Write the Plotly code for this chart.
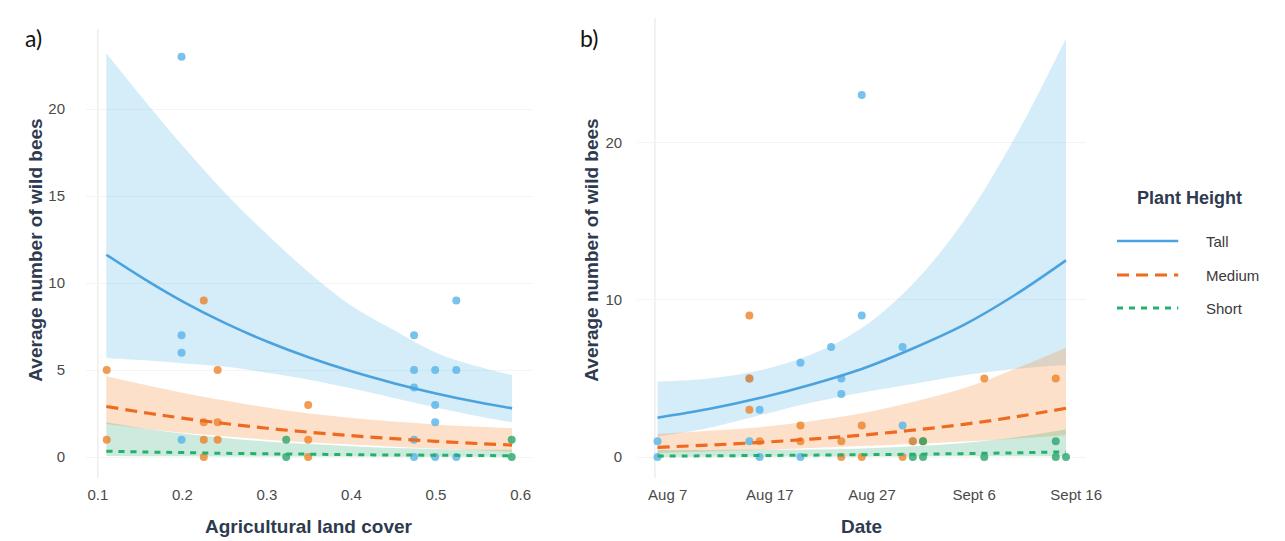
import plotly.graph_objects as go

# ---------------- Panel a: agricultural land cover ----------------
ag_tall_x = [0.199, 0.199, 0.199, 0.199, 0.474, 0.474, 0.474, 0.474, 0.474,
             0.499, 0.499, 0.499, 0.499, 0.524, 0.524, 0.524]
ag_tall_y = [23, 7, 6, 1, 7, 5, 4, 1, 0, 5, 3, 2, 0, 9, 5, 0]
ag_med_x = [0.1105, 0.1105, 0.2253, 0.2253, 0.2253, 0.2253, 0.2417, 0.2417, 0.2417,
            0.3488, 0.3488, 0.3488]
ag_med_y = [5, 1, 9, 2, 1, 0, 5, 2, 1, 3, 1, 0]
ag_short_x = [0.3228, 0.3228, 0.5895, 0.5895]
ag_short_y = [1, 0, 1, 0]

ag_grid = [0.11, 0.16, 0.2, 0.25, 0.3, 0.35, 0.4, 0.45, 0.5, 0.55, 0.59]
ag_tall_fit = [11.63, 10.08, 8.95, 7.71, 6.64, 5.72, 4.93, 4.25, 3.66, 3.15, 2.80]
ag_tall_hi = [23.2, 20.2, 17.9, 15.2, 12.8, 10.6, 8.7, 7.3, 6.0, 5.2, 4.7]
ag_tall_lo = [5.7, 5.55, 5.4, 5.2, 4.85, 4.45, 3.95, 3.4, 2.85, 2.35, 2.0]
ag_med_fit = [2.91, 2.52, 2.24, 1.93, 1.66, 1.43, 1.23, 1.06, 0.91, 0.78, 0.69]
ag_med_hi = [4.64, 4.1, 3.7, 3.25, 2.85, 2.5, 2.25, 2.05, 1.88, 1.75, 1.67]
ag_med_lo = [1.9, 1.6, 1.4, 1.2, 1.0, 0.85, 0.72, 0.6, 0.5, 0.4, 0.3]
ag_short_fit = [0.34, 0.29, 0.26, 0.22, 0.19, 0.17, 0.14, 0.12, 0.11, 0.09, 0.08]
ag_short_hi = [2.0, 1.6, 1.35, 1.1, 0.9, 0.75, 0.63, 0.53, 0.47, 0.43, 0.42]
ag_short_lo = [0.06, 0.05, 0.05, 0.04, 0.04, 0.03, 0.03, 0.02, 0.02, 0.02, 0.015]

ag_ticks = [0.1, 0.2, 0.3, 0.4, 0.5, 0.6]
ag_ticktext = ["0.1", "0.2", "0.3", "0.4", "0.5", "0.6"]
ag_yticks = [0, 5, 10, 15, 20]

# ---------------- Panel b: date ----------------
d_tall_x = ["2019-08-06", "2019-08-06", "2019-08-15", "2019-08-15", "2019-08-16", "2019-08-16",
            "2019-08-20", "2019-08-20", "2019-08-23", "2019-08-24", "2019-08-24",
            "2019-08-26", "2019-08-26", "2019-08-30", "2019-08-30", "2019-08-31"]
d_tall_y = [1, 0, 5, 1, 3, 0, 6, 0, 7, 5, 4, 23, 9, 7, 2, 1]
d_med_x = ["2019-08-15", "2019-08-15", "2019-08-15", "2019-08-16", "2019-08-20", "2019-08-20",
           "2019-08-24", "2019-08-24", "2019-08-26", "2019-08-26", "2019-08-30",
           "2019-08-31", "2019-09-01", "2019-09-07", "2019-09-14"]
d_med_y = [9, 5, 3, 1, 2, 1, 1, 0, 2, 0, 0, 1, 1, 5, 5]
d_short_x = ["2019-08-31", "2019-09-01", "2019-09-01", "2019-09-07", "2019-09-14", "2019-09-14",
             "2019-09-15"]
d_short_y = [0, 1, 0, 0, 1, 0, 0]

d_grid = ["2019-08-06", "2019-08-11", "2019-08-16", "2019-08-21", "2019-08-26",
          "2019-08-31", "2019-09-05", "2019-09-10", "2019-09-15"]
d_tall_fit = [2.5, 3.05, 3.75, 4.6, 5.6, 6.9, 8.4, 10.3, 12.5]
d_tall_hi = [4.8, 5.0, 5.5, 6.5, 8.2, 11.0, 15.0, 20.3, 26.6]
d_tall_lo = [1.3, 1.85, 2.65, 3.45, 4.1, 4.65, 5.2, 5.6, 5.85]
d_med_fit = [0.62, 0.76, 0.93, 1.14, 1.39, 1.71, 2.08, 2.55, 3.1]
d_med_hi = [1.46, 1.67, 1.9, 2.28, 2.78, 3.5, 4.37, 5.6, 6.95]
d_med_lo = [0.26, 0.35, 0.45, 0.57, 0.7, 0.83, 0.99, 1.16, 1.38]
d_short_fit = [0.065, 0.08, 0.1, 0.12, 0.15, 0.18, 0.22, 0.27, 0.33]
d_short_hi = [0.45, 0.45, 0.46, 0.48, 0.55, 0.68, 0.9, 1.25, 1.75]
d_short_lo = [0.01, 0.015, 0.022, 0.03, 0.035, 0.04, 0.045, 0.05, 0.06]

d_ticks = ["2019-08-07", "2019-08-17", "2019-08-27", "2019-09-06", "2019-09-16"]
d_ticktext = ["Aug 7", "Aug 17", "Aug 27", "Sept 6", "Sept 16"]
d_yticks = [0, 10, 20]

groups = ["Tall", "Medium", "Short"]
line_col = {"Tall": "#4AA3DE", "Medium": "#EE6A1E", "Short": "#27B06C"}
pt_col = {"Tall": "rgba(86,180,233,0.80)", "Medium": "rgba(238,130,40,0.80)",
          "Short": "rgba(40,165,105,0.80)"}
band_col = {"Tall": "rgba(86,180,233,0.25)", "Medium": "rgba(246,145,60,0.28)",
            "Short": "rgba(50,175,125,0.25)"}
dash = {"Tall": "solid", "Medium": "12px,7px", "Short": "6px,6px"}
lw = {"Tall": 2.6, "Medium": 3.2, "Short": 3.0}

fig = go.Figure()

panels = [
    ("x", "y", ag_grid,
     {"Tall": (ag_tall_fit, ag_tall_lo, ag_tall_hi), "Medium": (ag_med_fit, ag_med_lo, ag_med_hi),
      "Short": (ag_short_fit, ag_short_lo, ag_short_hi)},
     {"Tall": (ag_tall_x, ag_tall_y), "Medium": (ag_med_x, ag_med_y), "Short": (ag_short_x, ag_short_y)}),
    ("x2", "y2", d_grid,
     {"Tall": (d_tall_fit, d_tall_lo, d_tall_hi), "Medium": (d_med_fit, d_med_lo, d_med_hi),
      "Short": (d_short_fit, d_short_lo, d_short_hi)},
     {"Tall": (d_tall_x, d_tall_y), "Medium": (d_med_x, d_med_y), "Short": (d_short_x, d_short_y)}),
]

for xa, ya, grid, fits, pts in panels:
    # ribbons
    for g in groups:
        fit, lo, hi = fits[g]
        fig.add_trace(go.Scatter(x=grid, y=lo, mode="lines", line=dict(width=0, shape="spline"),
                                 xaxis=xa, yaxis=ya, showlegend=False, hoverinfo="skip"))
        fig.add_trace(go.Scatter(x=grid, y=hi, mode="lines", line=dict(width=0, shape="spline"),
                                 fill="tonexty", fillcolor=band_col[g],
                                 xaxis=xa, yaxis=ya, showlegend=False, hoverinfo="skip"))
    # points
    for g in groups:
        px, py = pts[g]
        fig.add_trace(go.Scatter(x=px, y=py, mode="markers",
                                 marker=dict(size=8, color=pt_col[g], line=dict(width=0)),
                                 xaxis=xa, yaxis=ya, showlegend=False, name=g))
    # fitted lines
    for g in groups:
        fit, lo, hi = fits[g]
        fig.add_trace(go.Scatter(x=grid, y=fit, mode="lines",
                                 line=dict(color=line_col[g], width=lw[g], dash=dash[g], shape="spline"),
                                 xaxis=xa, yaxis=ya, showlegend=False, name=g))

W, H = 1285, 541
def px_x(p):
    return p / W
def px_y(p):
    return 1 - p / H

tickfont = dict(family="Liberation Sans, Arial, sans-serif", size=15, color="#4A4A4A")
grid_col = "#F4F4F4"

fig.update_layout(
    width=W, height=H, margin=dict(l=0, r=0, t=0, b=0),
    plot_bgcolor="white", paper_bgcolor="white", showlegend=False,
    xaxis=dict(domain=[px_x(79), px_x(531)], range=[0.086, 0.614], tickvals=ag_ticks,
               ticktext=ag_ticktext, showgrid=False, zeroline=False,
               tickfont=tickfont, ticks="", ticklabelstandoff=6, anchor="y"),
    yaxis=dict(domain=[px_y(470), px_y(21)], range=[-1.2, 24.6], tickvals=ag_yticks,
               showgrid=True, gridcolor=grid_col, zeroline=False, tickfont=tickfont,
               ticks="", ticklabelstandoff=20, anchor="x"),
    xaxis2=dict(domain=[px_x(637), px_x(1092)], range=["2019-08-04", "2019-09-17"],
                type="date", tickvals=d_ticks, ticktext=d_ticktext, showgrid=False,
                zeroline=False, tickfont=tickfont, ticks="",
                ticklabelstandoff=6, anchor="y2"),
    yaxis2=dict(domain=[px_y(470), px_y(10)], range=[-1.33, 27.9], tickvals=d_yticks,
                showgrid=True, gridcolor=grid_col, zeroline=False, tickfont=tickfont,
                ticks="", ticklabelstandoff=14, anchor="x2"),
)

# faint reference lines at left of each panel (as in the original theme)
fig.add_shape(type="line", xref="x", yref="paper", x0=0.1, x1=0.1,
              y0=px_y(470), y1=px_y(21), line=dict(color="#E8E8E8", width=1.2), layer="below")
fig.add_shape(type="line", xref="x2", yref="paper", x0="2019-08-05 18:00", x1="2019-08-05 18:00",
              y0=px_y(470), y1=px_y(10), line=dict(color="#E8E8E8", width=1.2), layer="below")

title_font = dict(family="Liberation Sans, Arial, sans-serif", size=19, color="#2E3A4F")
ann = []
ann.append(dict(text="<b>Agricultural land cover</b>", x=px_x(305), y=px_y(518), xref="paper",
                yref="paper", showarrow=False, font=title_font, xanchor="center", yanchor="middle"))
ann.append(dict(text="<b>Date</b>", x=px_x(864.5), y=px_y(518), xref="paper", yref="paper",
                showarrow=False, font=title_font, xanchor="center", yanchor="middle"))
for cx in (27, 590):
    ann.append(dict(text="<b>Average number of wild bees</b>", x=px_x(cx), y=px_y(242),
                    xref="paper", yref="paper", showarrow=False, font=title_font, textangle=-90,
                    xanchor="center", yanchor="middle"))
panel_font = dict(family="Lato, Open Sans, sans-serif", size=23, color="#111111")
ann.append(dict(text="a)", x=px_x(26), y=px_y(30), xref="paper", yref="paper", showarrow=False,
                font=panel_font, xanchor="center", yanchor="middle"))
ann.append(dict(text="b)", x=px_x(588), y=px_y(30), xref="paper", yref="paper", showarrow=False,
                font=panel_font, xanchor="center", yanchor="middle"))

# legend (drawn by hand to match the original layout)
ann.append(dict(text="<b>Plant Height</b>", x=px_x(1196), y=px_y(190), xref="paper", yref="paper",
                showarrow=False, font=dict(family="Liberation Sans, Arial, sans-serif", size=18,
                                           color="#2E3A4F"),
                xanchor="center", yanchor="middle"))
leg_y = {"Tall": 233, "Medium": 267, "Short": 300}
for g in groups:
    fig.add_shape(type="line", xref="paper", yref="paper", x0=px_x(1123), x1=px_x(1185),
                  y0=px_y(leg_y[g]), y1=px_y(leg_y[g]),
                  line=dict(color=line_col[g], width=lw[g], dash=dash[g]))
    ann.append(dict(text=g, x=px_x(1211), y=px_y(leg_y[g]), xref="paper", yref="paper",
                    showarrow=False, font=dict(family="Liberation Sans, Arial, sans-serif", size=15,
                                               color="#3A3A3A"),
                    xanchor="left", yanchor="middle"))
fig.update_layout(annotations=ann)

fig.write_html("out.html")
